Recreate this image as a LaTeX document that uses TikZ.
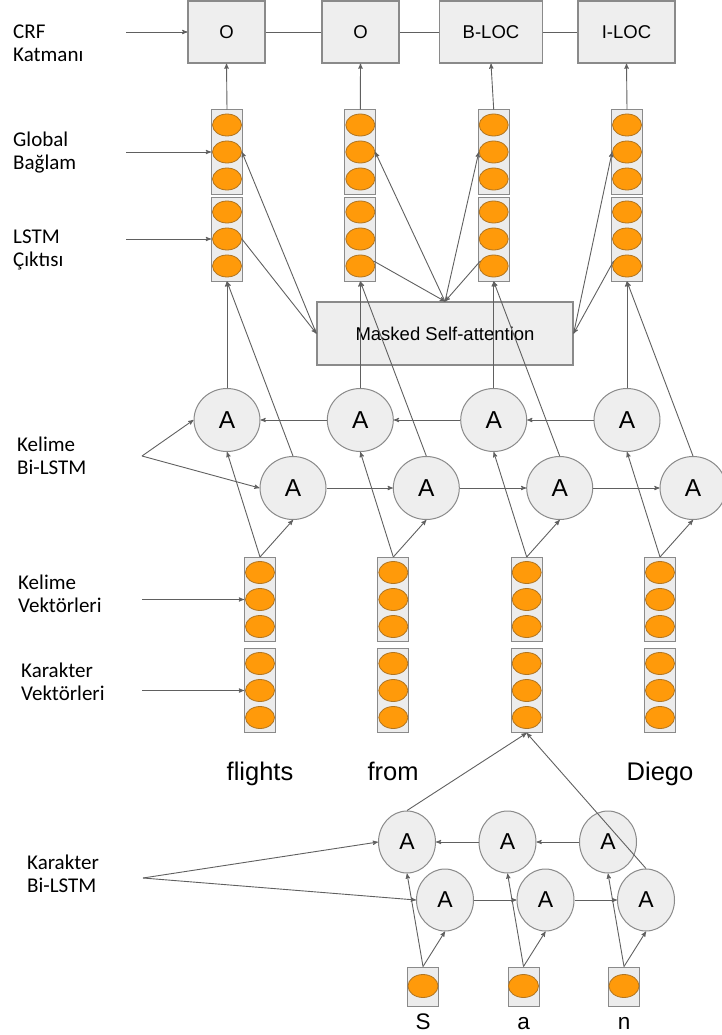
\documentclass[tikz,border=0pt]{standalone}
\usepackage{fontspec}
\setmainfont{Liberation Sans}
\newfontfamily\sidefont{Carlito}
\usepackage{tikz}
\usetikzlibrary{shapes.geometric}
\usetikzlibrary{positioning}
\usetikzlibrary{arrows}
\definecolor{boxfill}{HTML}{EEEEEE}
\definecolor{boxline}{HTML}{8A8A8A}
\definecolor{unitfill}{HTML}{FF9A0A}
\definecolor{unitline}{HTML}{B07522}
\definecolor{vecfill}{HTML}{ECECEC}
\definecolor{linecol}{HTML}{606060}
\tikzset{x=1pt, y=-1pt, % one unit is one pixel of the sketch, y goes down
every edge/.style={ % Sets the properties for each connector
draw=linecol,
->,>=stealth', % small filled arrow heads
line width=0.9pt},
crf/.style={draw=boxline, fill=boxfill, line width=1.2pt, minimum height=62pt, inner sep=0pt,
font=\fontsize{18.5}{20}\selectfont},
vec/.style={draw=boxline, fill=vecfill, line width=1pt, minimum width=31pt, minimum height=84pt, inner sep=0pt},
unit/.style={ellipse, draw=unitline, fill=unitfill, line width=0.8pt, minimum width=29pt, minimum height=22pt, inner sep=0pt},
cell/.style={ellipse, draw=boxline, fill=boxfill, line width=1pt, minimum width=66pt, minimum height=63pt, inner sep=0pt,
font=\fontsize{24.5}{26}\selectfont},
ccell/.style={cell, minimum width=57pt, minimum height=62pt, font=\fontsize{23}{25}\selectfont},
side/.style={anchor=west, align=left, inner sep=0pt, font=\sidefont\fontsize{21}{23}\selectfont},
word/.style={anchor=base, font=\fontsize{25.5}{28}\selectfont}}

\begin{document}
\begin{tikzpicture}
    \useasboundingbox (0,0) rectangle (721,1035);
    % CRF layer
    \node[crf, minimum width=77pt] (o1) at (226.5,32) {O};
    \node[crf, minimum width=77pt] (o2) at (360.5,32) {O};
    \node[crf, minimum width=103pt] (o3) at (491,32) {B-LOC};
    \node[crf, minimum width=97pt] (o4) at (626.5,32) {I-LOC};
    \draw (o1) edge[-] (o2) (o2) edge[-] (o3) (o3) edge[-] (o4);
    % attention
    \node[crf, minimum width=256pt, minimum height=63pt, font=\fontsize{18.5}{21}\selectfont] (att) at (445,333.5) {Masked Self-attention};
    % word columns
    \foreach \i/\x in {1/227,2/360.3,3/493.7,4/627} {
      \node[vec] (g\i) at (\x,152) {};
      \node[vec] (l\i) at (\x,239) {};
      \node[vec] (kv\i) at (\x+33,599.5) {};
      \node[vec] (cv\i) at (\x+33,690.5) {};
      \foreach \u/\d in {a/-27,b/0,c/27} {
        \node[unit] (g\i\u) at (\x,152+\d) {};
        \node[unit] (l\i\u) at (\x,239+\d) {};
        \node[unit] (kv\i\u) at (\x+33,599.5+\d) {};
        \node[unit] (cv\i\u) at (\x+33,690.5+\d) {};
      }
      \node[cell] (bw\i) at (\x,420) {A};
      \node[cell] (fw\i) at (\x+66,488) {A};
    }
    \foreach \i in {1,...,4} {
      \draw (g\i.north) edge (o\i.south);
      \draw (bw\i.north) edge (l\i.south);
      \draw (fw\i.north) edge (l\i.south);
      \draw (kv\i.north) edge (bw\i.south);
      \draw (kv\i.north) edge (fw\i.south);
    }
    \foreach \i/\j in {1/2,2/3,3/4} {
      \draw (bw\j) edge (bw\i);
      \draw (fw\i) edge (fw\j);
    }
    \draw (l1b.east) edge (att.west) (att.west) edge (g1b.east);
    \draw (l2c.20) edge (att.north) (att.north) edge (g2b.east);
    \draw (l3c.160) edge (att.north) (att.north) edge (g3b.west);
    \draw (l4c.160) edge (att.east) (att.east) edge (g4b.west);
    % words
    \node[word] (w1) at (260,780) {flights};
    \node[word] (w2) at (393,780) {from};
    \node[word] (w4) at (660,780) {Diego};
    % character Bi-LSTM
    \foreach \i/\x/\t in {1/423/S,2/523.5/a,3/624/n} {
      \node[ccell] (cb\i) at (\x-16,842) {A};
      \node[ccell] (cf\i) at (\x+22,900) {A};
      \node[vec, minimum height=39pt] (ch\i) at (\x,986.5) {};
      \node[unit, minimum width=30pt, minimum height=23pt] (cu\i) at (\x,986) {};
      \node[word, font=\fontsize{22.5}{24}\selectfont] (lt\i) at (\x,1029) {\t};
      \draw (ch\i.north) edge (cb\i.south) (ch\i.north) edge (cf\i.south);
    }
    \draw (cb2) edge (cb1) (cb3) edge (cb2);
    \draw (cf1) edge (cf2) (cf2) edge (cf3);
    \draw (cb1.north) edge (cv3.south);
    \draw (cf3.north) edge (cv3.south);
    % side labels
    \node[side] (crfl) at (13,43.5) {CRF\\Katmanı};
    \node[side] (gl) at (13,153) {Global\\Bağlam};
    \node[side] (ll) at (13,250) {LSTM\\Çıktısı};
    \node[side] (kbl) at (17,456) {Kelime\\Bi-LSTM};
    \node[side] (kvl) at (18,594) {Kelime\\Vektörleri};
    \node[side] (cvl) at (21,681.5) {Karakter\\Vektörleri};
    \node[side] (cbl) at (27,873.5) {Karakter\\Bi-LSTM};
    \coordinate (crfs) at (126,32);
    \coordinate (gs) at (126,152);
    \coordinate (ls) at (126,239);
    \coordinate (kbs) at (142,456);
    \coordinate (kvs) at (142,599.5);
    \coordinate (cvs) at (142,690.5);
    \coordinate (cbs) at (143,878);
    \draw (crfs) edge (o1.west);
    \draw (gs) edge (g1.west);
    \draw (ls) edge (l1.west);
    \draw (kbs) edge (bw1.west) (kbs) edge (fw1.west);
    \draw (kvs) edge (kv1.west);
    \draw (cvs) edge (cv1.west);
    \draw (cbs) edge (cb1.west) (cbs) edge (cf1.west);
\end{tikzpicture}
\end{document}
